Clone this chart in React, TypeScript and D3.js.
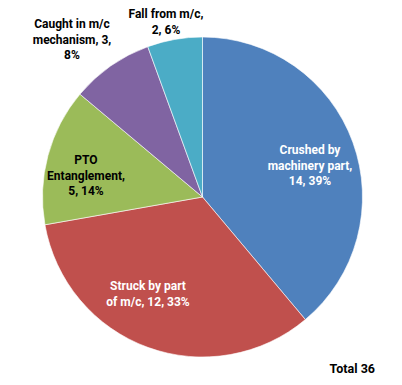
import React from "react";
import * as d3 from "d3";

const categories = [
  "Crushed by machinery part",
  "Struck by part of m/c",
  "PTO Entanglement",
  "Caught in m/c mechanism",
  "Fall from m/c",
];
const values = [14, 12, 5, 3, 2];
const colors = ["#4F81BD", "#C0504D", "#9BBB59", "#8064A2", "#4BACC6"];
const labelLines = [
  ["Crushed by", "machinery part,", "14, 39%"],
  ["Struck by part", "of m/c, 12, 33%"],
  ["PTO", "Entanglement,", "5, 14%"],
  ["Caught in m/c", "mechanism, 3,", "8%"],
  ["Fall from m/c,", "2, 6%"],
];
const labelColors = ["#fff", "#fff", "#000", "#000", "#000"];
const labelAnchors: [number, number][] = [
  [310, 151],
  [148, 287],
  [86, 161],
  [72, 25],
  [166, 15],
];
const totalLabel = "Total 36";

export default function App() {
  const W = 402, H = 385;
  const cx = 202.5, cy = 197, r = 160;
  const pie = d3.pie<number>().sort(null).startAngle(0).endAngle(2 * Math.PI);
  const arcs = pie(values);
  const arc = d3.arc<d3.PieArcDatum<number>>().innerRadius(0).outerRadius(r);
  const font = "Roboto, 'Open Sans', sans-serif";
  return (
    <svg width={W} height={H} style={{ position: "absolute", left: 0, top: 0, background: "#fff" }}>
      <g transform={`translate(${cx},${cy})`}>
        {arcs.map((a, i) => (
          <path key={categories[i]} d={arc(a) || ""} fill={colors[i]} stroke="#fff" strokeWidth={0.6} />
        ))}
      </g>
      {labelLines.map((lines, i) => (
        <text
          key={i}
          fontFamily={font}
          fontWeight="bold"
          fontSize={12}
          fill={labelColors[i]}
          textAnchor="middle"
        >
          {lines.map((t, j) => (
            <tspan key={j} x={labelAnchors[i][0]} y={labelAnchors[i][1] + j * 15.5} dominantBaseline="middle">
              {t}
            </tspan>
          ))}
        </text>
      ))}
      <text x={375} y={370} textAnchor="end" dominantBaseline="middle" fontFamily={font} fontWeight="bold" fontSize={12.5} fill="#000">
        {totalLabel}
      </text>
    </svg>
  );
}
